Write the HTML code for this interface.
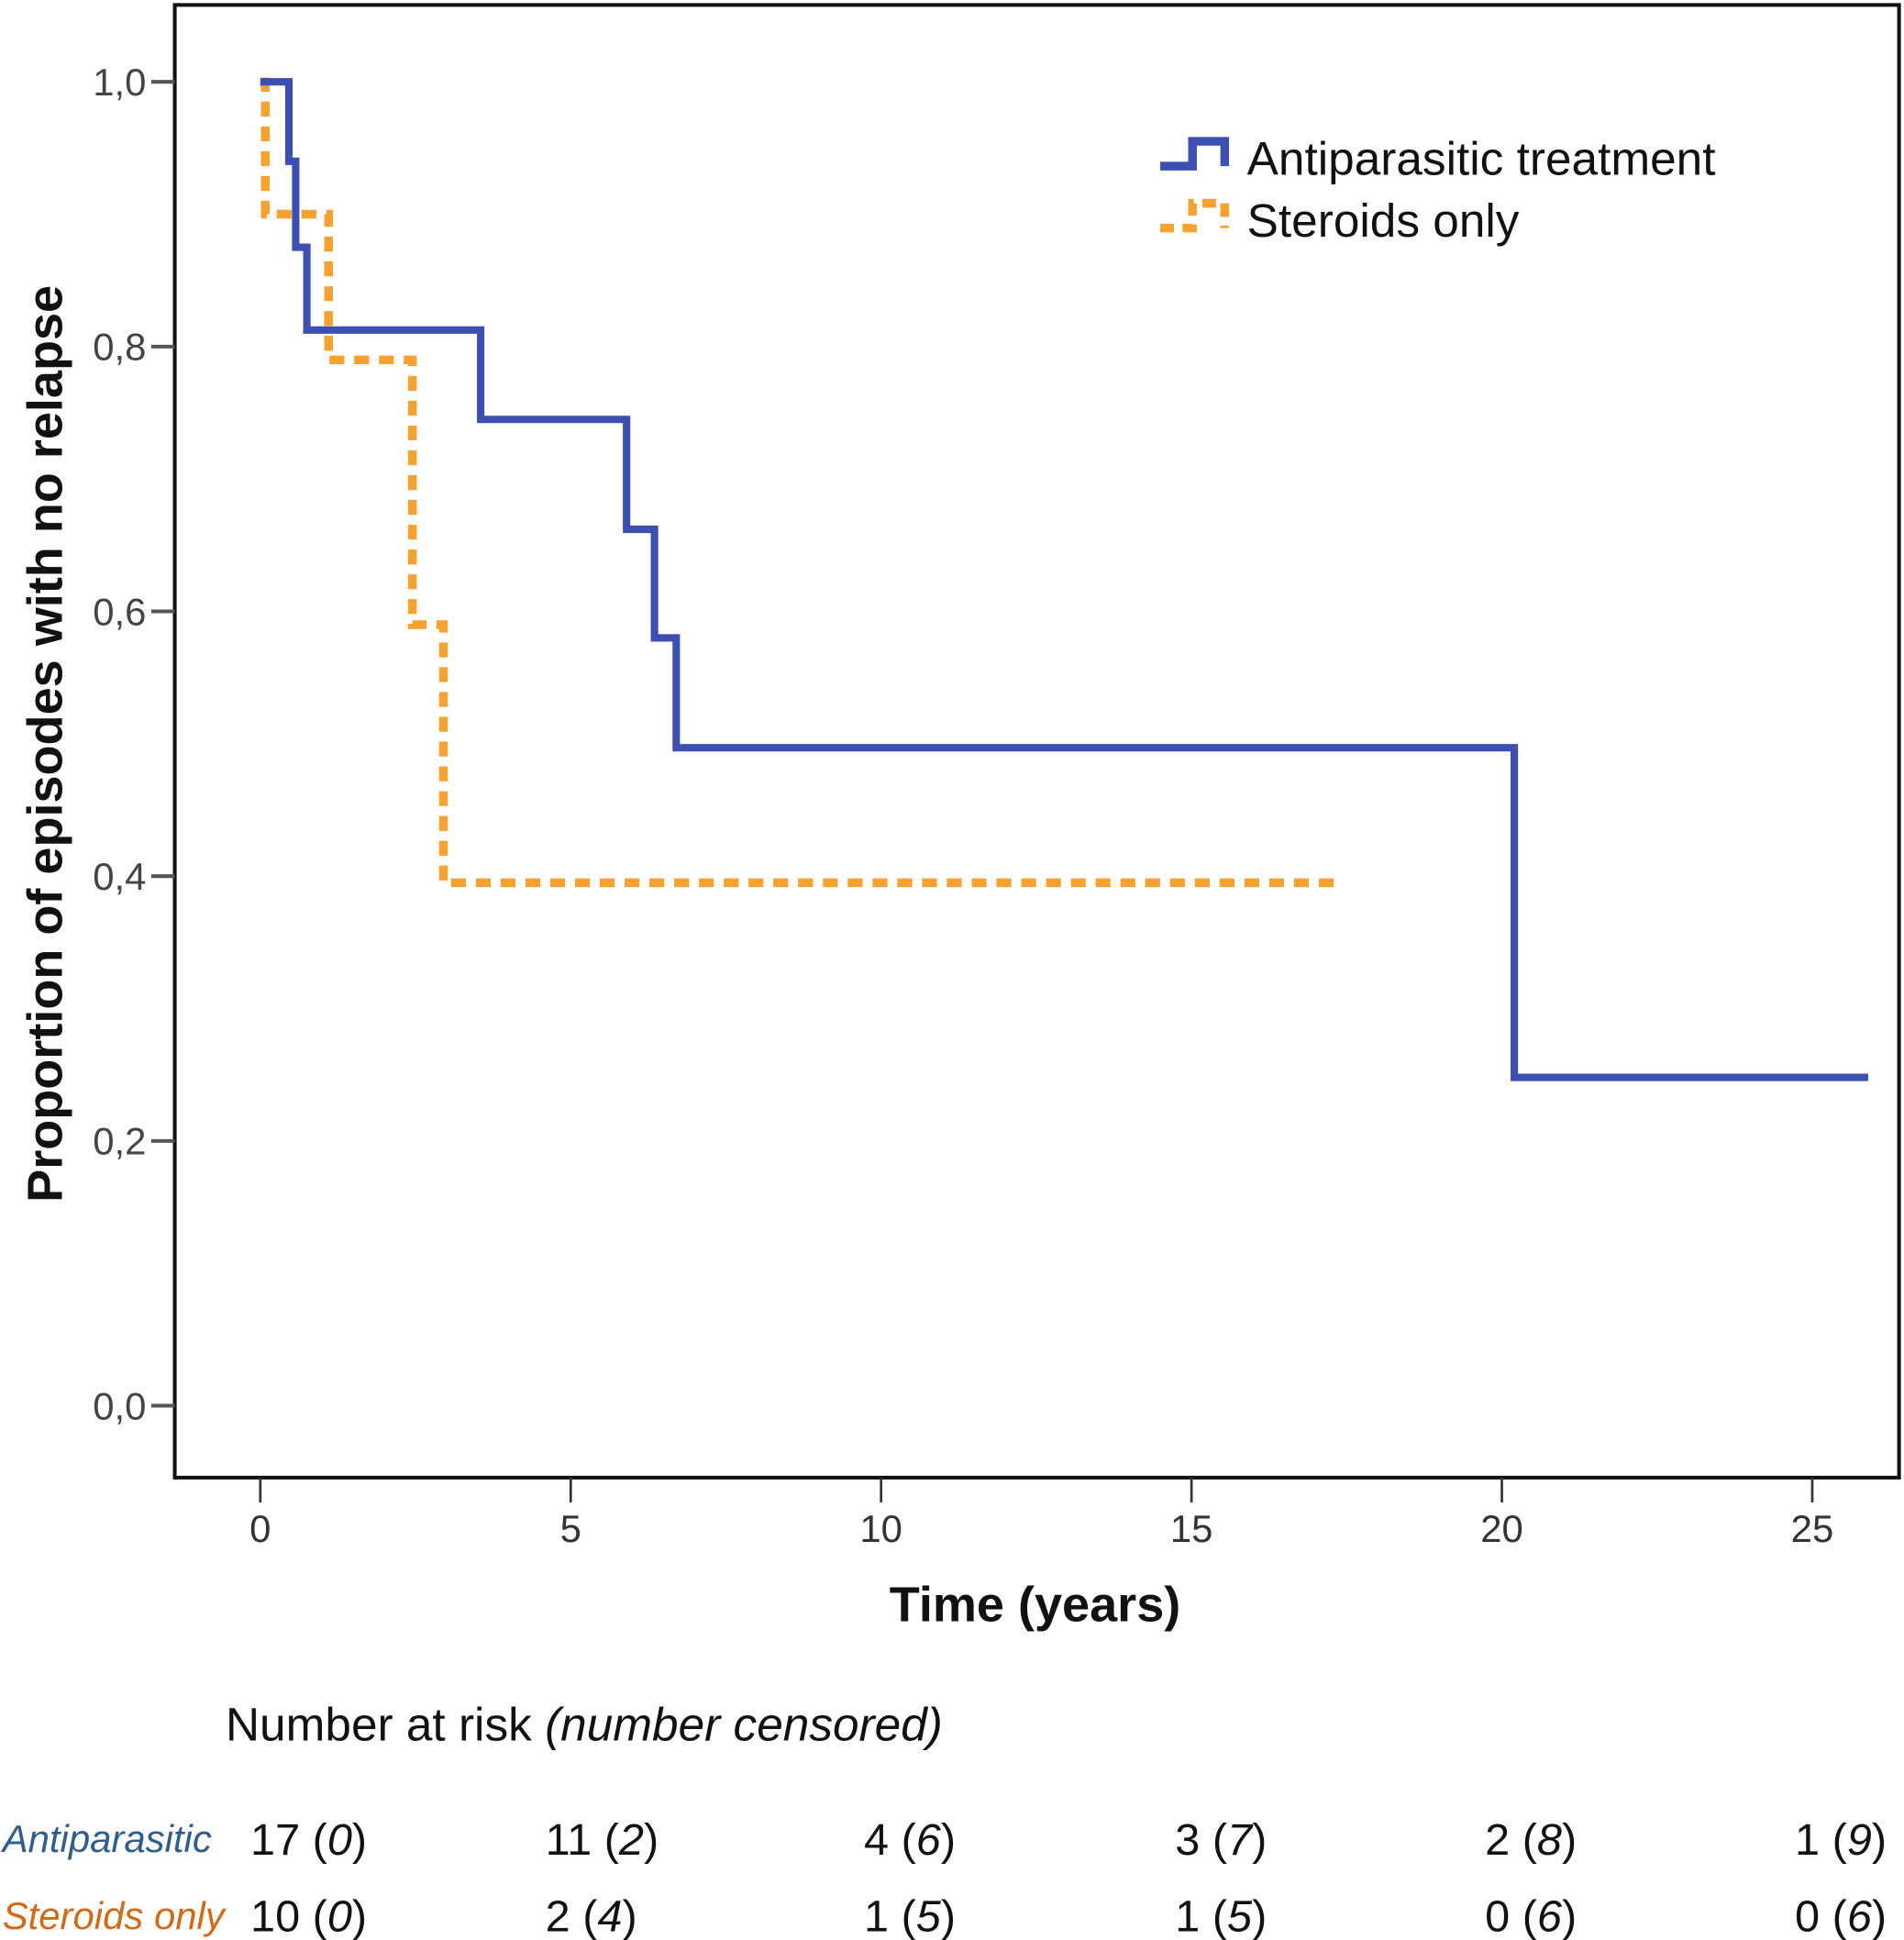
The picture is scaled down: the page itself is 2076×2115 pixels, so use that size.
<!DOCTYPE html>
<html><head><meta charset="utf-8"><style>
html,body{margin:0;padding:0;background:#fff;}
svg{display:block;}
text{font-family:"Liberation Sans","DejaVu Sans",sans-serif;}
</style></head><body>
<svg id="chart" width="2076" height="2115" viewBox="0 0 1536 1565" preserveAspectRatio="none" xmlns="http://www.w3.org/2000/svg">
<rect x="141" y="4" width="1391" height="1188" fill="#fff" stroke="#111" stroke-width="3"/>
<g id="axes"></g>
<g id="series"></g>
<text transform="translate(50,600) rotate(-90)" text-anchor="middle" font-size="40" font-weight="bold" fill="#111">Proportion of episodes with no relapse</text>
<text x="835" y="1308" text-anchor="middle" font-size="40" font-weight="bold" fill="#111">Time (years)</text>
<g>
<path d="M936,134 H962 V114 H988 V134" fill="none" stroke="#3d4fb3" stroke-width="7"/>
<text x="1006" y="141" font-size="38" fill="#111">Antiparasitic treatment</text>
<path d="M936,184 H962 V164 H988 V184" fill="none" stroke="#f7a130" stroke-width="7" stroke-dasharray="11,7"/>
<text x="1006" y="191" font-size="38" fill="#111">Steroids only</text>
</g>
<text x="182" y="1404" font-size="38" fill="#111">Number at risk <tspan font-style="italic">(number censored)</tspan></text>
<text x="2" y="1494" font-size="31" font-style="italic" fill="#2f5d8f">Antiparasitic</text>
<text x="2" y="1556" font-size="31" font-style="italic" fill="#d06a1a">Steroids only</text>
<g id="risk"></g>
</svg>
<script>
const xTicks=[0,5,10,15,20,25];
const yTicks=[0,0.2,0.4,0.6,0.8,1.0];
const yTickLabels=["0,0","0,2","0,4","0,6","0,8","1,0"];
const antiTimes=[0,0.46,0.57,0.75,3.55,5.9,6.35,6.7,20.2,25.9];
const antiSurv=[1.0,0.94,0.875,0.8125,0.745,0.662,0.58,0.497,0.248,0.248];
const steroidTimes=[0,0.08,1.1,2.45,2.95,17.4];
const steroidSurv=[1.0,0.9,0.79,0.59,0.395,0.395];
const riskAnti=["17","11","4","3","2","1"];
const censAnti=["0","2","6","7","8","9"];
const riskSter=["10","2","1","1","0","0"];
const censSter=["0","4","5","5","6","6"];
const NS="http://www.w3.org/2000/svg";
const xs=t=>210+t*50.08;
const ys=v=>1134-v*1068;
function mk(tag,attrs,parent){const e=document.createElementNS(NS,tag);for(const k in attrs)e.setAttribute(k,attrs[k]);parent.appendChild(e);return e;}
const axes=document.getElementById('axes');
xTicks.forEach(t=>{
 const l=mk('line',{x1:xs(t),x2:xs(t),y1:1192,y2:1212,stroke:'#333','stroke-width':2},axes);
 
 
 const tx=mk('text',{x:xs(t),y:1244,'text-anchor':'middle','font-size':31,fill:'#333'},axes);
 tx.textContent=t;
 
 
});
yTicks.forEach((v,i)=>{
 const l=mk('line',{x1:122,x2:141,y1:ys(v),y2:ys(v),stroke:'#555','stroke-width':3},axes);
 
 
 const tx=mk('text',{x:118,y:ys(v)+11,'text-anchor':'end','font-size':31,fill:'#444'},axes);
 tx.textContent=yTickLabels[i];
 
 
});
function stepPath(ts,ss){let d='M'+xs(ts[0])+','+ys(ss[0]);for(let i=1;i<ts.length;i++){d+=' H'+xs(ts[i])+' V'+ys(ss[i]);}return d;}
const series=document.getElementById('series');
const sp=mk('path',{d:stepPath(steroidTimes,steroidSurv),fill:'none',stroke:'#f7a130','stroke-width':7,'stroke-dasharray':'12,8'},series);


const ap=mk('path',{d:stepPath(antiTimes,antiSurv),fill:'none',stroke:'#3d4fb3','stroke-width':6},series);


const risk=document.getElementById('risk');
const colX=[202,440,697,948,1198,1448];
function row(nums,cens,y,name){nums.forEach((n,i)=>{
 const t=mk('text',{x:colX[i],y:y,'font-size':36,fill:'#111'},risk);
 t.innerHTML=n+' (<tspan font-style="italic">'+cens[i]+'</tspan>)';
 
 
});}
row(riskAnti,censAnti,1496,'risk-antiparasitic-cell');
row(riskSter,censSter,1558,'risk-steroids-cell');
</script>
</body></html>
